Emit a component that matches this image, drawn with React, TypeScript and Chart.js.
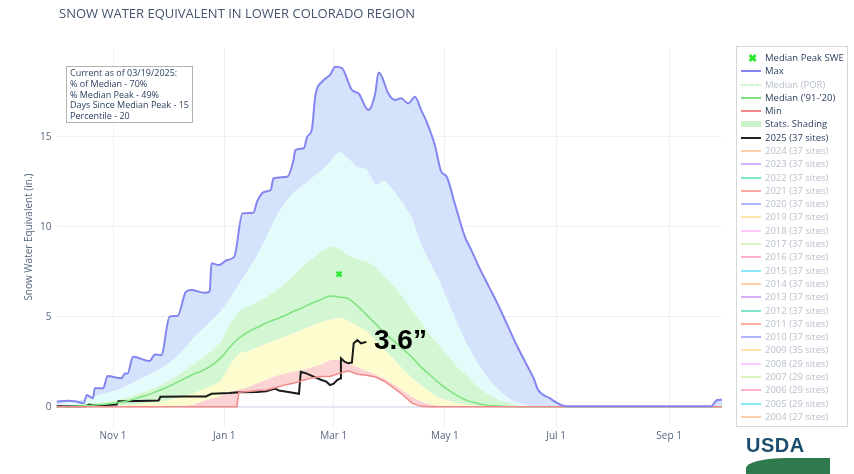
import React, { useEffect, useRef } from 'react';
import { Chart, registerables } from 'chart.js';
Chart.register(...registerables);

// ---- axis ticks (day index from Oct 1, leap-year calendar) ----
const monthTickDays = [31, 92, 152, 213, 274, 336];
const monthTickLabels = ['Nov 1', 'Jan 1', 'Mar 1', 'May 1', 'Jul 1', 'Sep 1'];
const yTickValues = [0, 5, 10, 15];

// ---- common grid for percentile bands ----
const gridDays = [0,5,10,15,20,25,30,35,40,45,50,55,60,65,70,75,80,85,90,95,100,105,110,115,120,125,130,135,140,145,150,155,160,165,170,175,180,185,190,195,200,205,210,215,220,225,230,235,240,245,250,255,260,265,270,275,280,285,290,295,300,305,310,315,320,325,330,335,340,345,350,355,360,365];

const p90Values = [0.1,0.2,0.3,0.4,0.55,0.7,0.85,1.0,1.25,1.5,1.75,2.0,2.3,2.7,3.2,3.8,4.3,4.8,5.3,6.0,6.8,7.6,8.4,9.4,10.5,11.3,11.9,12.3,12.7,13.1,13.6,14.2,13.8,13.3,13.2,12.3,12.6,12.0,11.3,10.5,9.0,8.0,7.0,5.8,4.6,3.5,2.6,1.8,1.2,0.7,0.35,0.15,0.05,0,0,0,0,0,0,0,0,0,0,0,0,0,0,0,0,0,0,0,0,0];
const p70Values = [0,0.05,0.1,0.15,0.2,0.25,0.32,0.42,0.55,0.72,0.9,1.1,1.35,1.65,2.0,2.35,2.7,3.1,3.6,4.6,5.3,5.6,5.8,6.1,6.4,6.8,7.3,7.8,8.2,8.6,8.9,8.8,8.4,8.2,8.1,7.8,7.2,6.7,6.1,5.4,4.7,4.0,3.4,2.8,2.2,1.75,1.2,0.8,0.5,0.3,0.15,0.05,0,0,0,0,0,0,0,0,0,0,0,0,0,0,0,0,0,0,0,0,0,0];
const medianValues = [0,0.01,0.03,0.05,0.08,0.12,0.18,0.25,0.35,0.5,0.65,0.85,1.05,1.3,1.55,1.8,2.0,2.3,2.7,3.3,3.8,4.15,4.4,4.65,4.85,5.05,5.3,5.5,5.75,5.95,6.15,6.1,6.0,5.6,5.1,4.6,4.1,3.65,3.2,2.75,2.2,1.75,1.3,0.92,0.6,0.35,0.2,0.1,0.05,0.02,0,0,0,0,0,0,0,0,0,0,0,0,0,0,0,0,0,0,0,0,0,0,0,0];
const p30Values = [0,0,0,0,0.01,0.02,0.05,0.07,0.1,0.15,0.2,0.28,0.35,0.45,0.6,0.75,0.95,1.15,1.4,2.3,2.95,3.1,3.3,3.5,3.7,3.9,4.1,4.3,4.5,4.7,4.85,4.95,4.8,4.5,4.2,3.7,3.15,2.65,2.1,1.6,1.2,0.8,0.5,0.35,0.2,0.12,0.05,0,0,0,0,0,0,0,0,0,0,0,0,0,0,0,0,0,0,0,0,0,0,0,0,0,0,0];
const p10Values = [0,0,0,0,0,0,0,0,0,0,0,0,0.02,0.04,0.06,0.12,0.3,0.45,0.6,0.85,0.95,1.1,1.3,1.5,1.7,1.85,1.95,2.05,2.2,2.35,2.6,2.6,2.4,2.2,2.0,1.8,1.55,1.25,0.9,0.55,0.3,0.12,0.05,0,0,0,0,0,0,0,0,0,0,0,0,0,0,0,0,0,0,0,0,0,0,0,0,0,0,0,0,0,0,0];

// ---- Min ----
const minDays = [0,99,100,105,110,115,120,125,130,135,140,145,150,155,160,165,170,175,180,185,190,195,200,205,365];
const minValues = [0,0,0.8,0.85,0.9,0.93,1.05,1.2,1.3,1.45,1.6,1.68,1.68,1.85,2.0,1.8,1.75,1.65,1.4,1.05,0.65,0.2,0.02,0,0];

// ---- Max ----
const maxDays = [0,5.7,10,15,16.6,20,21,25.6,28,35.7,37.5,39,42,51,54,57.5,62,66.5,71,74,81,84,85,89,91,93.5,97.5,102,108,110,114,117.5,119,126.6,130,131,135.7,137.5,140,142,145.7,150,153,156.6,162,165.7,171,174.8,176.6,178,182,185.7,189,193,196.6,200,203,207.5,211,214,218.4,224,227.5,232,237,242,247,252,257,262,264,270,278,282,359,361.5,362.5,365];
const maxValues = [0.28,0.33,0.3,0.19,0.65,0.47,1.02,1.02,1.7,1.58,1.85,1.85,2.78,2.54,2.9,2.87,5.0,5.05,6.39,6.48,6.33,6.39,7.97,7.87,7.97,8.15,8.33,10.74,10.78,11.39,11.94,12.04,12.69,12.78,13.7,14.26,14.36,15.0,15.37,17.3,18.06,18.43,18.89,18.8,17.6,17.4,16.48,17.4,18.56,18.43,17.4,17.04,17.13,16.85,17.22,16.48,15.83,14.54,13.06,12.78,11.3,9.44,8.7,7.7,6.7,5.7,4.6,3.5,2.5,1.5,0.95,0.5,0.05,0.02,0.02,0.3,0.37,0.38];

// ---- 2025 ----
const wy2025Days = [0,16,18,20,27,33,34,45,56,57,70,82,85,95,100,110,115,118,120,122,128,133,134,137,141,145,148,150,152,154,155.5,156,158,160,162,163,165,167,170];
const wy2025Values = [0.02,0.03,0.12,0.08,0.1,0.12,0.3,0.32,0.35,0.55,0.56,0.57,0.72,0.76,0.8,0.82,0.86,0.95,1.0,0.9,0.8,0.72,1.94,1.85,1.67,1.5,1.39,1.2,1.28,1.48,1.57,2.69,2.5,2.41,2.45,3.52,3.7,3.52,3.6];

// ---- Median peak ----
const medianPeakDay = [155];
const medianPeakValue = [7.37];

// ---- legend / text ----
const infoLines = ['Current as of 03/19/2025:', '% of Median - 70%', '% Median Peak - 49%', 'Days Since Median Peak - 15', 'Percentile - 20'];
const historyYears = [2024,2023,2022,2021,2020,2019,2018,2017,2016,2015,2014,2013,2012,2011,2010,2009,2008,2007,2006,2005,2004];
const historySites = [37,37,37,37,37,37,37,37,37,37,37,37,37,37,37,35,29,29,29,29,27];
const historyColors = ['#FFA15A','#ab63fa','#00cc96','#EF553B','#636efa','#FECB52','#FF97FF','#B6E880','#FF6692','#19d3f3','#FFA15A','#ab63fa','#00cc96','#EF553B','#636efa','#FECB52','#FF97FF','#B6E880','#FF6692','#19d3f3','#FFA15A'];

const COL = {
  max: '#8585f0', min: '#f28a8a', median: '#7ee27e', medPeak: '#2ee82e',
  fMax: '#d4e3fb', f90: '#e3fbfb', f70: '#d3f6d3', f30: '#fcfccf', f10: '#fcd3d3',
  text: '#2a3f5f', tick: '#56667f', grid: '#eef0f6',
};

const pts = (xs: number[], ys: number[]) => xs.map((x, i) => ({ x, y: ys[i] }));

type LegendItem = { label: string; kind: 'marker' | 'line' | 'dash' | 'band'; color: string; width?: number; hidden?: boolean };
const legendItems: LegendItem[] = [
  { label: 'Median Peak SWE', kind: 'marker', color: COL.medPeak },
  { label: 'Max', kind: 'line', color: COL.max },
  { label: 'Median (POR)', kind: 'dash', color: '#9be89b', hidden: true },
  { label: "Median ('91-'20)", kind: 'line', color: COL.median },
  { label: 'Min', kind: 'line', color: COL.min },
  { label: 'Stats. Shading', kind: 'band', color: '#c9f2c9' },
  { label: '2025 (37 sites)', kind: 'line', color: '#222', width: 2 },
  ...historyYears.map((y, i) => ({ label: `${y} (${historySites[i]} sites)`, kind: 'line' as const, color: historyColors[i], hidden: true })),
];

export default function App() {
  const ref = useRef<HTMLCanvasElement>(null);
  useEffect(() => {
    Chart.defaults.font.family = "'Open Sans', sans-serif";
    const chart = new Chart(ref.current!, {
      type: 'line',
      data: {
        datasets: [
          { label: 'Max', data: pts(maxDays, maxValues), borderColor: COL.max, borderWidth: 2, backgroundColor: COL.fMax, fill: 1, pointRadius: 0, cubicInterpolationMode: 'monotone' },
          { label: 'p90', data: pts(gridDays, p90Values), borderWidth: 0, borderColor: 'rgba(0,0,0,0)', backgroundColor: COL.f90, fill: 2, pointRadius: 0 },
          { label: 'p70', data: pts(gridDays, p70Values), borderWidth: 0, borderColor: 'rgba(0,0,0,0)', backgroundColor: COL.f70, fill: 3, pointRadius: 0 },
          { label: 'p30', data: pts(gridDays, p30Values), borderWidth: 0, borderColor: 'rgba(0,0,0,0)', backgroundColor: COL.f30, fill: 4, pointRadius: 0 },
          { label: 'p10', data: pts(gridDays, p10Values), borderWidth: 0, borderColor: 'rgba(0,0,0,0)', backgroundColor: COL.f10, fill: 5, pointRadius: 0 },
          { label: 'Min', data: pts(minDays, minValues), borderColor: COL.min, borderWidth: 1.5, fill: false, pointRadius: 0 },
          { label: "Median ('91-'20)", data: pts(gridDays, medianValues), borderColor: COL.median, borderWidth: 1.5, fill: false, pointRadius: 0, cubicInterpolationMode: 'monotone' },
          { label: '2025', data: pts(wy2025Days, wy2025Values), borderColor: '#1a1a1a', borderWidth: 2, fill: false, pointRadius: 0 },
          { label: 'Median Peak SWE', data: pts(medianPeakDay, medianPeakValue), showLine: false, pointStyle: 'crossRot', pointRadius: 3.5, borderColor: COL.medPeak, borderWidth: 2.5, backgroundColor: COL.medPeak },
        ],
      },
      options: {
        responsive: false,
        animation: false,
        events: [],
        layout: { padding: { left: 0, right: 132, top: 47.6, bottom: 27.5 } },
        plugins: {
          legend: { display: false },
          tooltip: { enabled: false },
          filler: { drawTime: 'beforeDatasetsDraw' },
        } as any,
        scales: {
          x: {
            type: 'linear', min: 0, max: 365,
            afterBuildTicks: (s: any) => { s.ticks = monthTickDays.map((v) => ({ value: v })); },
            afterFit: (s: any) => { s.height = 20; },
            ticks: { callback: (v: any) => monthTickLabels[monthTickDays.indexOf(Number(v))] ?? '', color: COL.tick, font: { size: 10 }, padding: 4, maxRotation: 0, autoSkip: false },
            grid: { color: COL.grid, drawTicks: false },
            border: { display: false },
          },
          y: {
            type: 'linear', min: -1.1, max: 19.95,
            afterBuildTicks: (s: any) => { s.ticks = yTickValues.map((v) => ({ value: v })); },
            afterFit: (s: any) => { s.width = 56.5; },
            ticks: { color: COL.tick, font: { size: 10 }, padding: 5 },
            grid: { color: (c: any) => (c.tick && c.tick.value === 0 ? '#e3e8f2' : COL.grid), lineWidth: (c: any) => (c.tick && c.tick.value === 0 ? 2 : 1), drawTicks: false },
            border: { display: false },
            title: { display: true, text: 'Snow Water Equivalent (in.)', color: COL.tick, font: { size: 10 }, padding: { top: 23, bottom: 0 } },
          },
        },
      },
    });
    return () => chart.destroy();
  }, []);

  const legendTop = 58;
  const legendStep = 13.29;

  return (
    <div style={{ position: 'fixed', left: 0, top: 0, width: 854, height: 474, background: '#fff', fontFamily: "'Open Sans', sans-serif", overflow: 'hidden' }}>
      <canvas ref={ref} width={854} height={474} style={{ position: 'absolute', left: 0, top: 0, width: 854, height: 474 }} />
      <div style={{ position: 'absolute', left: 59, top: 5, fontSize: 13, color: '#44546f', whiteSpace: 'nowrap', lineHeight: '17px' }}>
        SNOW WATER EQUIVALENT IN LOWER COLORADO REGION
      </div>
      <div style={{ position: 'absolute', left: 66, top: 66, width: 127, height: 57, border: '1px solid #b4b4b4', background: 'rgba(255,255,255,0.85)', boxSizing: 'border-box', padding: '1px 0 0 3px', fontSize: 9, lineHeight: '10.8px', color: COL.text, whiteSpace: 'nowrap' }}>
        {infoLines.map((t) => (<div key={t}>{t}</div>))}
      </div>
      <div style={{ position: 'absolute', left: 736, top: 46, width: 112, height: 381, border: '1px solid #d8d8d8', boxSizing: 'border-box' }} />
      {legendItems.map((it, i) => {
        const cy = legendTop + i * legendStep;
        const op = it.hidden ? 0.5 : 1;
        let sym: any = null;
        if (it.kind === 'marker') {
          sym = <div style={{ position: 'absolute', left: 747, top: cy - 5, width: 10, height: 10, color: it.color, fontSize: 11, fontWeight: 700, lineHeight: '10px', textAlign: 'center' }}>✖</div>;
        } else if (it.kind === 'band') {
          sym = <div style={{ position: 'absolute', left: 741, top: cy - 3, width: 20, height: 6, background: it.color }} />;
        } else if (it.kind === 'dash') {
          sym = <div style={{ position: 'absolute', left: 741, top: cy - 1, width: 20, height: 0, borderTop: `2px dashed ${it.color}`, opacity: op }} />;
        } else {
          const w = it.width ?? 2;
          sym = <div style={{ position: 'absolute', left: 741, top: cy - w / 2, width: 20, height: w, background: it.color, opacity: op }} />;
        }
        return (
          <React.Fragment key={it.label}>
            {sym}
            <div style={{ position: 'absolute', left: 765, top: cy - 7, fontSize: 9.5, lineHeight: '14px', color: it.hidden ? '#b8bfcb' : COL.text, whiteSpace: 'nowrap' }}>{it.label}</div>
          </React.Fragment>
        );
      })}
      <div style={{ position: 'absolute', left: 374, top: 323, fontFamily: "'Liberation Sans', Arial, sans-serif", fontWeight: 700, fontSize: 28, lineHeight: '34px', color: '#000', whiteSpace: 'nowrap' }}>3.6”</div>
      <div style={{ position: 'absolute', left: 746, top: 433, fontFamily: "'Liberation Sans', Arial, sans-serif", fontWeight: 700, fontSize: 20, lineHeight: '24px', color: '#1c4e6e', letterSpacing: '0.5px' }}>USDA</div>
      <div style={{ position: 'absolute', left: 746, top: 458, width: 84, height: 16, background: '#2f7a4c', borderTopLeftRadius: '40px 10px' }} />
    </div>
  );
}
